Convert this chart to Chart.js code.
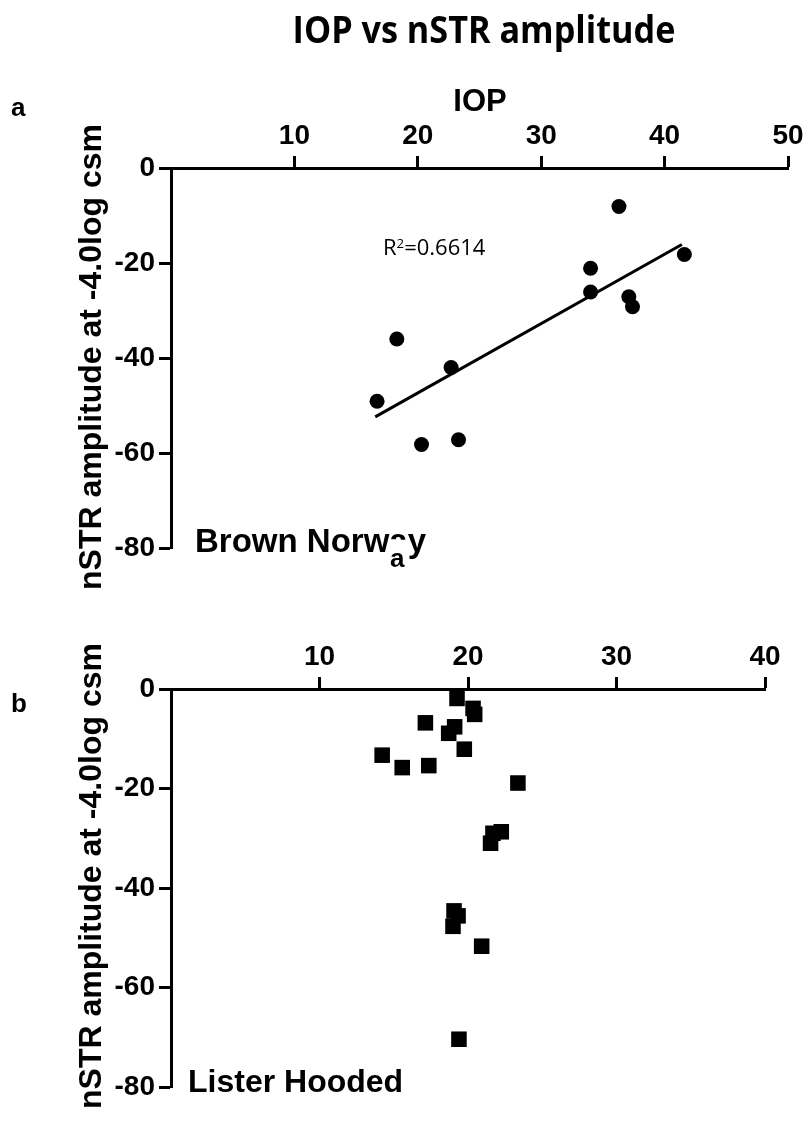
<!DOCTYPE html>
<html>
<head>
<meta charset="utf-8">
<script src="https://cdn.jsdelivr.net/npm/chart.js@4.4.1/dist/chart.umd.min.js"></script>
<style>
  body { margin: 0; background: #fff; }
  #page { position: relative; width: 808px; height: 1125px; overflow: hidden; background: #fff; }
  canvas { position: absolute; left: 0; }
  .txt { position: absolute; white-space: nowrap; line-height: 1; color: #000; font-family: 'Liberation Sans', Arial, sans-serif; font-weight: bold; }
  .ytitle { font-size: 32px; transform: translate(-50%, -50%) rotate(-90deg); }
</style>
</head>
<body>
<div id="page">
  <canvas id="chartA" width="808" height="600" style="top:0"></canvas>
  <canvas id="chartB" width="808" height="525" style="top:600px"></canvas>

  <div class="txt" style="left:484px; top:9px; font-family:'Open Sans', sans-serif; font-size:38px; transform:translateX(-50%) scaleX(0.9);">IOP vs nSTR amplitude</div>

  <div class="txt" style="left:11px; top:94px; font-size:26px;">a</div>
  <div class="txt" style="left:480px; top:85px; font-size:31px; transform:translateX(-50%);">IOP</div>
  <div class="txt ytitle" style="left:90px; top:357px;">nSTR amplitude at -4.0log csm</div>
  <div class="txt" style="left:195px; top:524px; font-size:33px;">Brown Norw<span style="display:inline-block; clip-path: inset(0 0 52% 0);">a</span>y</div>
  <div class="txt" style="left:390px; top:545px; font-size:26px;">a</div>
  <div class="txt" style="left:383px; top:235px; font-family:'Open Sans', sans-serif; font-weight:normal; font-size:22px;">R<sup style="font-size:0.6em; vertical-align:0.55em;">2</sup>=0.6614</div>

  <div class="txt" style="left:11px; top:690px; font-size:26px;">b</div>
  <div class="txt ytitle" style="left:90px; top:876px;">nSTR amplitude at -4.0log csm</div>
  <div class="txt" style="left:188px; top:1065px; font-size:32px;">Lister Hooded</div>
</div>

<script>
// Brown Norway: IOP vs nSTR amplitude
const bnIop = [16.7, 18.3, 20.3, 22.7, 23.3, 34.0, 34.0, 36.3, 37.1, 37.4, 41.6];
const bnAmp = [-49.1, -36.0, -58.2, -42.0, -57.2, -21.1, -26.1, -8.1, -27.1, -29.2, -18.2];
// regression line end points
const bnFitIop = [16.55, 41.4];
const bnFitAmp = [-52.4, -16.1];

// Lister Hooded
const lhIop = [19.26, 20.34, 20.45, 17.13, 19.1, 18.7, 19.75, 14.22, 15.57, 17.36, 23.36,
               22.24, 21.68, 21.52, 19.06, 19.33, 18.99, 20.92, 19.39];
const lhAmp = [-1.9, -3.9, -5.1, -6.8, -7.6, -8.9, -12.1, -13.3, -15.8, -15.4, -18.9,
               -28.7, -29.0, -31.0, -44.6, -45.6, -47.7, -51.7, -70.4];

const xMaxA = 50;
const xMaxB = 40;
const xStep = 10;
const yMin = -80;
const yMax = 0;
const yStep = 20;

Chart.defaults.font.family = "'Liberation Sans', Arial, sans-serif";
Chart.defaults.color = '#000';

const toPoints = (xs, ys) => xs.map((x, i) => ({ x: x, y: ys[i] }));

const makeScales = (xMax, topH) => ({
    x: {
        type: 'linear',
        position: 'top',
        min: 0,
        max: xMax,
        afterBuildTicks: s => { s.ticks = s.ticks.filter(t => t.value !== 0); },
        afterFit: s => { s.height = topH; },
        ticks: { stepSize: xStep, padding: 3, font: { size: 28, weight: 'bold' }, maxRotation: 0 },
        grid: { drawOnChartArea: false, tickLength: 12, tickWidth: 3, tickColor: '#000' },
        border: { display: true, width: 3, color: '#000' }
    },
    y: {
        type: 'linear',
        position: 'left',
        min: yMin,
        max: yMax,
        afterFit: s => { s.width = 171; },
        ticks: { stepSize: yStep, padding: 4, font: { size: 28, weight: 'bold' } },
        grid: { drawOnChartArea: false, tickLength: 12, tickWidth: 3, tickColor: '#000' },
        border: { display: true, width: 3, color: '#000' }
    }
});

const baseOptions = (xMax, topH, padRight, padBottom) => ({
    responsive: false,
    animation: false,
    devicePixelRatio: 1,
    layout: { padding: { left: 0, top: 0, right: padRight, bottom: padBottom } },
    plugins: { legend: { display: false }, tooltip: { enabled: false } },
    scales: makeScales(xMax, topH)
});

new Chart(document.getElementById('chartA'), {
    type: 'scatter',
    data: {
        datasets: [{
            data: toPoints(bnIop, bnAmp),
            pointStyle: 'circle',
            pointRadius: 7.5,
            backgroundColor: '#000',
            borderWidth: 0,
            clip: false
        }, {
            data: toPoints(bnFitIop, bnFitAmp),
            showLine: true,
            borderColor: '#000',
            borderWidth: 3,
            pointRadius: 0,
            clip: false
        }]
    },
    options: baseOptions(xMaxA, 168, 20, 52)
});

new Chart(document.getElementById('chartB'), {
    type: 'scatter',
    data: {
        datasets: [{
            data: toPoints(lhIop, lhAmp),
            pointStyle: 'rect',
            pointRadius: 11,
            backgroundColor: '#000',
            borderWidth: 0,
            clip: false
        }]
    },
    options: baseOptions(xMaxB, 89, 43, 38)
});
</script>
</body>
</html>
